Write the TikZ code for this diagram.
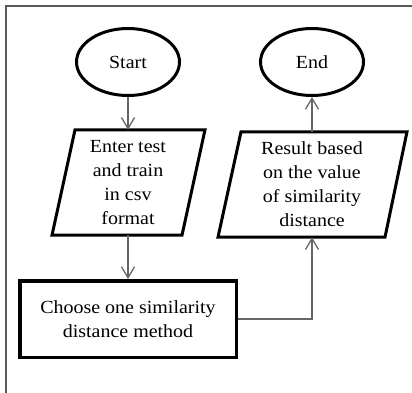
\documentclass[tikz,border=0pt]{standalone}
\usepackage{fontspec}
\setmainfont{Liberation Serif}[FakeStretch=1.08]
\usetikzlibrary{arrows.meta,shapes.geometric}
\newcommand\flowfont{\fontsize{18.5}{24}\selectfont}

\begin{document}
\begin{tikzpicture}[x=1pt,y=-1pt,
  frameline/.style={draw=black!65, line width=2pt},
  terminal/.style={ellipse, draw=black, line width=3pt, minimum width=103pt,
    minimum height=67pt, inner sep=0pt, font=\flowfont},
  iobox/.style={inner sep=0pt, minimum height=105pt, align=center, font=\flowfont},
  ioline/.style={draw=black, line width=3pt, line join=miter},
  procbox/.style={draw=black, line width=3.5pt, minimum width=216.5pt,
    minimum height=76.5pt, inner sep=0pt, align=center, font=\flowfont},
  flow/.style={draw=black!60, line width=1.3pt,
    -{Straight Barb[length=11pt,width=13pt,line width=1.3pt]}},
  ]
  \useasboundingbox (0,0) rectangle (412,392);

  % outer frame
  \draw[frameline] (413,5.5) -- (5.5,5.5) -- (5.5,393);

  % terminals
  \node[terminal] (start) at (128,62) {Start};
  \node[terminal] (end)   at (312,62) {End};

  % input / output parallelograms
  \node[iobox] (input) at (128,182.5) {Enter test\\and train\\in csv\\format};
  \draw[ioline] ([xshift=-53pt]input.north) -- ([xshift=77pt]input.north)
    -- ([xshift=54pt]input.south) -- ([xshift=-76pt]input.south) -- cycle;

  \node[iobox] (output) at (312,184.5) {Result based\\on the value\\of similarity\\distance};
  \draw[ioline] ([xshift=-71pt]output.north) -- ([xshift=95pt]output.north)
    -- ([xshift=73pt]output.south) -- ([xshift=-94pt]output.south) -- cycle;

  % process
  \node[procbox] (choose) at (128,319) {Choose one similarity\\distance method};

  % connectors
  \draw[flow] (start.south) -- (input.north);
  \draw[flow] (input.south) -- (choose.north);
  \draw[flow] (choose.east) -| (output.south);
  \draw[flow] (output.north) -- (end.south);
\end{tikzpicture}
\end{document}
